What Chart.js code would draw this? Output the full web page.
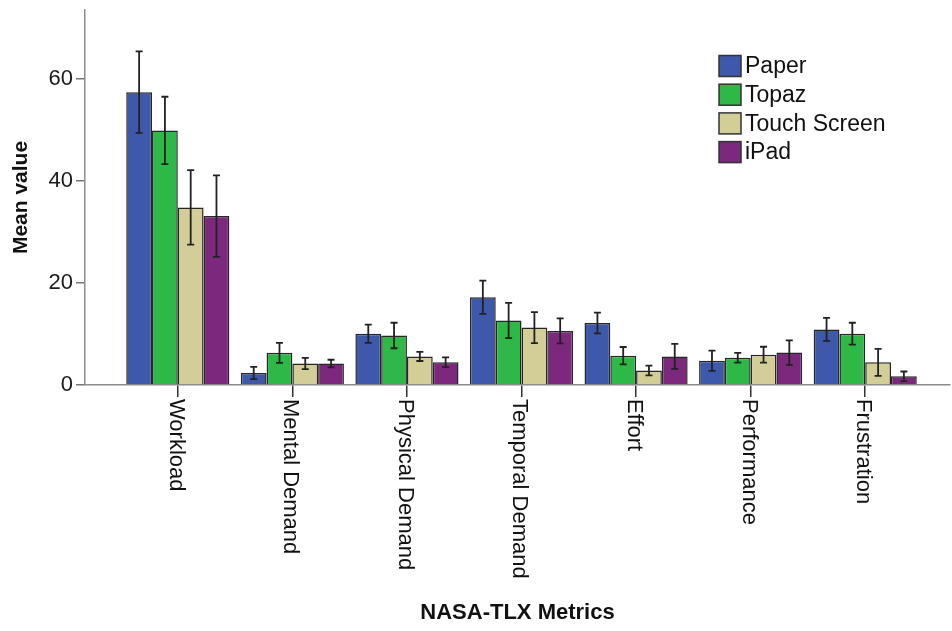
<!DOCTYPE html>
<html>
<head>
<meta charset="utf-8">
<script src="https://cdn.jsdelivr.net/npm/chart.js@4/dist/chart.umd.min.js"></script>
<style>
  html, body { margin: 0; padding: 0; background: #ffffff; }
  canvas { display: block; }
</style>
</head>
<body>
<canvas id="c" width="952" height="631"></canvas>
<script>
// ---- data ----
const categories = ["Workload", "Mental Demand", "Physical Demand", "Temporal Demand", "Effort", "Performance", "Frustration"];
const seriesNames = ["Paper", "Topaz", "Touch Screen", "iPad"];
const paperMeans  = [57.4, 2.35, 10.05, 17.2, 12.15, 4.75, 10.9];
const paperErr    = [8.0, 1.2, 1.8, 3.25, 2.05, 2.0, 2.25];
const topazMeans  = [49.9, 6.3, 9.7, 12.65, 5.75, 5.35, 10.05];
const topazErr    = [6.6, 1.95, 2.5, 3.45, 1.7, 0.95, 2.15];
const touchMeans  = [34.8, 4.2, 5.6, 11.25, 2.85, 5.95, 4.45];
const touchErr    = [7.3, 1.1, 0.9, 3.05, 0.95, 1.55, 2.65];
const ipadMeans   = [33.1, 4.2, 4.45, 10.6, 5.6, 6.35, 1.7];
const ipadErr     = [8.0, 0.75, 0.95, 2.45, 2.45, 2.4, 0.95];
const yTicks = [0, 20, 40, 60];
const yMax = 73.5;
const xTitle = "NASA-TLX Metrics";
const yTitle = "Mean value";

// ---- styling ----
const colors = ["#3E58AC", "#2EB848", "#D3CE97", "#7C287D"];
const FONT = "'Liberation Sans', Arial, sans-serif";
const means = [paperMeans, topazMeans, touchMeans, ipadMeans];
const errs = [paperErr, topazErr, touchErr, ipadErr];

const datasets = seriesNames.map((name, s) => ({
  label: name,
  data: means[s].map((v, i) => ({ x: i, y: v })),
  err: errs[s],
  backgroundColor: colors[s],
  borderColor: "#262626",
  borderWidth: 1.5,
  categoryPercentage: 0.9,
  barPercentage: 1.0
}));

const errorBars = {
  id: "errorBars",
  afterDatasetsDraw(chart) {
    const ctx = chart.ctx, ys = chart.scales.y;
    ctx.save();
    ctx.strokeStyle = "#222";
    ctx.lineWidth = 1.8;
    chart.data.datasets.forEach((ds, di) => {
      const meta = chart.getDatasetMeta(di);
      if (meta.hidden) return;
      meta.data.forEach((bar, i) => {
        const v = ds.data[i].y, e = ds.err[i];
        const yT = ys.getPixelForValue(v + e), yB = ys.getPixelForValue(v - e);
        const cw = 3.5;
        ctx.beginPath();
        ctx.moveTo(bar.x, yT); ctx.lineTo(bar.x, yB);
        ctx.moveTo(bar.x - cw, yT); ctx.lineTo(bar.x + cw, yT);
        ctx.moveTo(bar.x - cw, yB); ctx.lineTo(bar.x + cw, yB);
        ctx.stroke();
      });
    });
    ctx.restore();
  }
};

const xLabels = {
  id: "xLabels",
  afterDraw(chart) {
    const ctx = chart.ctx, xs = chart.scales.x;
    ctx.save();
    ctx.font = "22px " + FONT;
    ctx.fillStyle = "#111";
    ctx.textAlign = "left";
    ctx.textBaseline = "middle";
    categories.forEach((c, i) => {
      const px = xs.getPixelForValue(i);
      ctx.save();
      ctx.translate(px - 2, xs.top + 14);
      ctx.rotate(Math.PI / 2);
      ctx.fillText(c, 0, 0);
      ctx.restore();
    });
    ctx.restore();
  }
};

const customLegend = {
  id: "customLegend",
  afterDraw(chart) {
    const ctx = chart.ctx;
    ctx.save();
    ctx.font = "23px " + FONT;
    ctx.textAlign = "left";
    ctx.textBaseline = "middle";
    chart.data.datasets.forEach((ds, i) => {
      const cy = 66 + i * 28.7;
      ctx.fillStyle = ds.backgroundColor;
      ctx.fillRect(719, cy - 10.5, 22, 21);
      ctx.strokeStyle = "#333";
      ctx.lineWidth = 1.5;
      ctx.strokeRect(719, cy - 10.5, 22, 21);
      ctx.fillStyle = "#111";
      ctx.fillText(ds.label, 745, cy + 1);
    });
    ctx.restore();
  }
};

new Chart(document.getElementById("c"), {
  type: "bar",
  data: { datasets },
  plugins: [errorBars, xLabels, customLegend],
  options: {
    responsive: false,
    animation: false,
    layout: { padding: { top: 10, right: 2, left: 0, bottom: 0 } },
    plugins: { legend: { display: false }, tooltip: { enabled: false } },
    scales: {
      x: {
        type: "linear",
        offset: false,
        min: -0.81,
        max: 6.74,
        afterBuildTicks: (axis) => { axis.ticks = categories.map((c, i) => ({ value: i })); },
        afterFit: (s) => { s.height = 246; s.paddingLeft = 0; s.paddingRight = 0; },
        ticks: { display: false },
        grid: { display: true, offset: false, drawOnChartArea: false, drawTicks: true, tickLength: 12, color: "#333", lineWidth: 1.5 },
        border: { display: true, color: "#8c8c8c", width: 1.5 },
        title: { display: true, text: xTitle, color: "#111", font: { family: FONT, size: 22, weight: "bold" }, padding: { top: 0, bottom: 5 } }
      },
      y: {
        min: 0,
        max: yMax,
        afterBuildTicks: (axis) => { axis.ticks = yTicks.map(v => ({ value: v })); },
        afterFit: (s) => { s.width = 85; s.paddingTop = 0; s.paddingBottom = 0; },
        ticks: { color: "#1a1a1a", font: { family: FONT, size: 22 }, padding: 3 },
        grid: { display: true, drawOnChartArea: false, drawTicks: true, tickLength: 9, color: "#777", lineWidth: 1.5 },
        border: { display: true, color: "#8c8c8c", width: 1.5 },
        title: { display: true, text: yTitle, color: "#111", font: { family: FONT, size: 21, weight: "bold" }, padding: { top: 9, bottom: 0 } }
      }
    }
  }
});
</script>
</body>
</html>
